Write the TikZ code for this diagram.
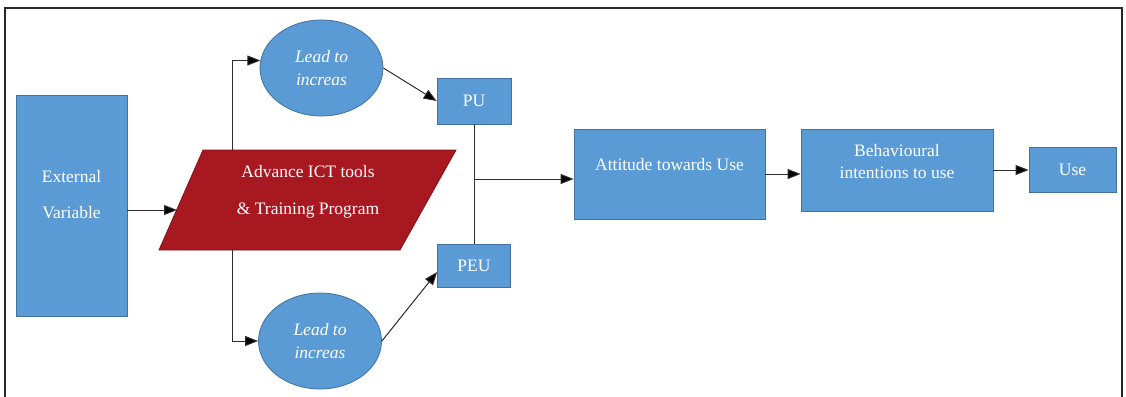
\documentclass[tikz,border=0pt]{standalone}
\usepackage{fontspec}
\setmainfont{Liberation Serif}
\usetikzlibrary{arrows.meta,shapes.geometric}

\definecolor{boxblue}{RGB}{91,155,213}
\definecolor{boxedge}{RGB}{65,113,156}
\definecolor{toolred}{RGB}{168,24,32}
\definecolor{tooledge}{RGB}{128,18,24}
\definecolor{wirecol}{RGB}{45,45,45}
\definecolor{framegray}{RGB}{40,40,40}

\begin{document}
\begin{tikzpicture}[x=1pt,y=-1pt,
  every node/.style={font=\fontsize{17.5}{22}\selectfont, text=white},
  block/.style={draw=boxedge, line width=0.8pt, fill=boxblue, inner sep=0pt},
  bubble/.style={ellipse, draw=boxedge, line width=0.8pt, fill=boxblue, inner sep=0pt,
    minimum width=123pt, minimum height=96pt, align=center,
    font=\fontsize{17.5}{23}\selectfont\itshape},
  caption/.style={align=center, inner sep=0pt},
  wire/.style={draw=wirecol, line width=1pt},
  flow/.style={wire, -{Triangle[length=13pt,width=10pt,fill=black]}},
]
\useasboundingbox (0,0) rectangle (1126,396);

% outer frame, open at the bottom edge
\draw[framegray, line width=1.6pt] (5,400) -- (5,8) -- (1122,8) -- (1122,400);

% external variable
\node[block, minimum width=111pt, minimum height=221pt] (ext) at (71.5,205.5) {};
\node[caption, font=\fontsize{17.5}{36}\selectfont] (extT) at (71.5,195) {External\\Variable};

% ICT tools parallelogram
\coordinate (pBL) at (159,250);
\coordinate (pTL) at (203,150);
\coordinate (pTR) at (456,150);
\coordinate (pBR) at (400,250);
\filldraw[fill=toolred, draw=tooledge, line width=0.8pt] (pBL) -- (pTL) -- (pTR) -- (pBR) -- cycle;
\node[caption, font=\fontsize{17.5}{37}\selectfont] (ictT) at (308,191.5)
  {Advance ICT tools\\\& Training Program};
\coordinate (ictIn) at (177,210);
\coordinate (ictTop) at (232,150);
\coordinate (ictBot) at (232,250);

% the two "lead to increase" ellipses
\node[bubble] (e1) at (321.5,68) {Lead to\\increas};
\node[bubble] (e2) at (320,341) {Lead to\\increas};

% perceived usefulness / ease of use
\node[block, minimum width=74pt, minimum height=46pt] (pu) at (474,101) {PU};
\node[block, minimum width=73pt, minimum height=43pt] (peu) at (474,265.5) {PEU};

% attitude, intention, use
\node[block, minimum width=191pt, minimum height=90pt] (att) at (669.5,174) {};
\node[caption] (attT) at (669.5,165) {Attitude towards Use};
\node[block, minimum width=192pt, minimum height=82pt] (beh) at (897,170) {};
\node[caption] (behT) at (897,162) {Behavioural\\intentions to use};
\node[block, minimum width=87pt, minimum height=45pt] (use) at (1072.5,169.5) {Use};

% connectors
\draw[flow] (ext.east |- ictIn) -- (ictIn);
\draw[flow] (ictTop) |- (e1.173);
\draw[flow] (ictBot) |- (e2.west);
\draw[flow] (e1.east) -- (pu.west);
\draw[flow] (e2.east) -- (peu.190);
\draw[wire] (pu.south) -- (peu.north);
\coordinate (join) at (474,179);
\draw[flow] (join) -- (join -| att.west);
\draw[flow] (att.east) -- (att.east -| beh.west);
\draw[flow] (beh.east) -- (beh.east -| use.west);
\end{tikzpicture}
\end{document}
